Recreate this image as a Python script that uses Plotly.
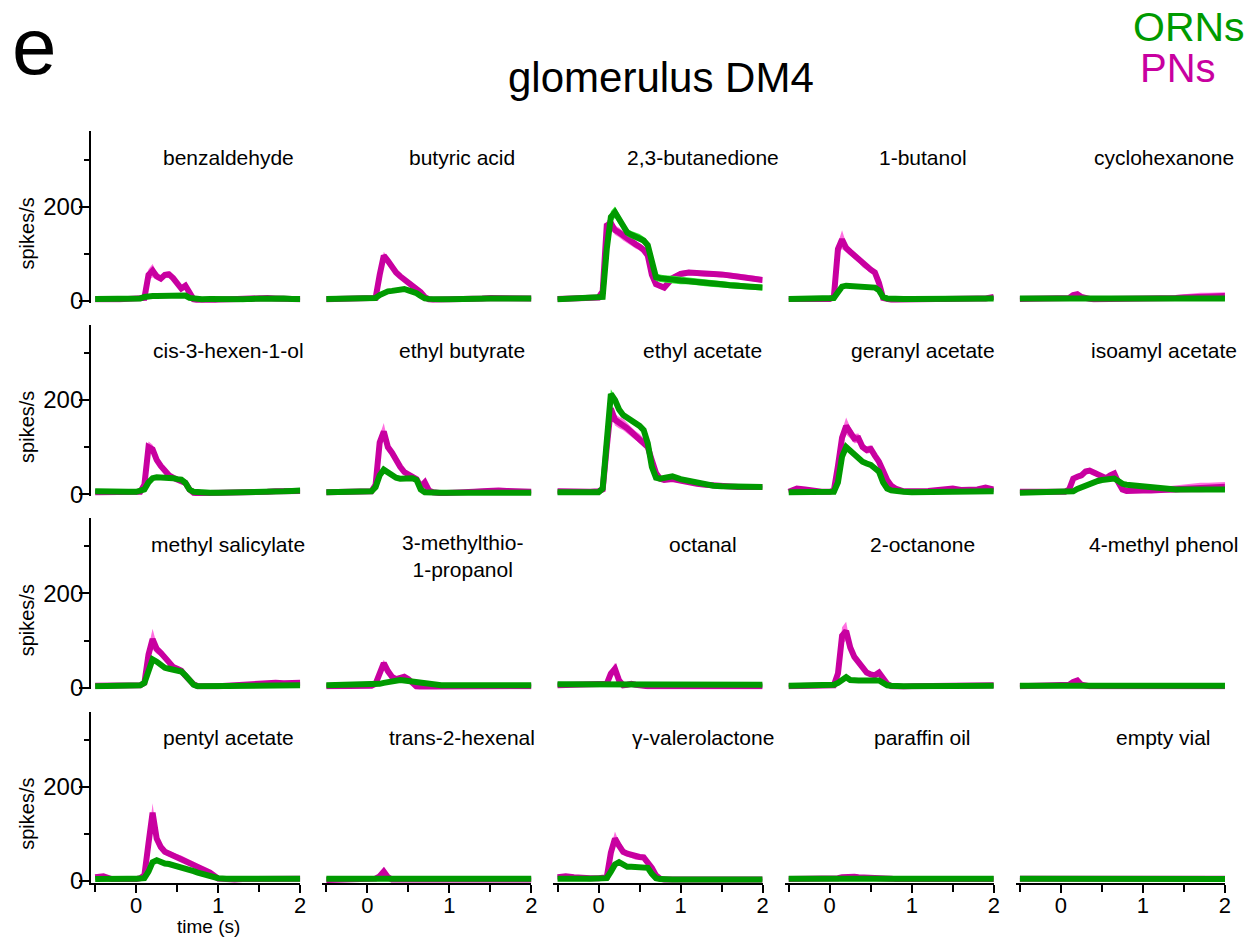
import plotly.graph_objects as go

# Odour panels, read left-to-right, top-to-bottom
ODORS = [
    "benzaldehyde", "butyric acid", "2,3-butanedione", "1-butanol", "cyclohexanone",
    "cis-3-hexen-1-ol", "ethyl butyrate", "ethyl acetate", "geranyl acetate", "isoamyl acetate",
    "methyl salicylate", "3-methylthio-<br>1-propanol", "octanal", "2-octanone", "4-methyl phenol",
    "pentyl acetate", "trans-2-hexenal", "\u03b3-valerolactone", "paraffin oil", "empty vial",
]

# Time bins (s), odour onset at 0
T = [-0.5, -0.4, -0.3, -0.2, -0.1, 0.0, 0.05, 0.1, 0.15, 0.2, 0.25, 0.3, 0.35, 0.4, 0.45,
     0.5, 0.55, 0.6, 0.65, 0.7, 0.75, 0.8, 0.9, 1.0, 1.1, 1.2, 1.3, 1.4, 1.5, 1.6, 1.7, 1.8, 1.9, 2.0]

# Projection neuron firing rate (spikes/s), mean across trials
PN_MEAN = [
    [3, 2, 3, 3, 4, 4, 4, 6, 55, 64, 52, 47, 55, 56, 48, 38, 26, 32, 18, 3, 1, 0, 1, 2, 3, 3, 4, 5, 8, 6, 5, 4, 4, 3],
    [3, 3, 3, 3, 3, 4, 4, 6, 55, 96, 85, 70, 60, 52, 45, 40, 34, 27, 18, 8, 3, 2, 2, 3, 4, 4, 5, 5, 6, 6, 6, 6, 6, 5],
    [4, 5, 5, 5, 5, 7, 20, 160, 165, 150, 145, 138, 131, 126, 120, 115, 108, 96, 55, 35, 30, 28, 48, 57, 60, 58, 57, 57, 56, 54, 52, 50, 47, 44],
    [4, 4, 4, 4, 4, 4, 8, 110, 130, 112, 104, 96, 88, 78, 72, 66, 60, 38, 6, 3, 2, 2, 3, 3, 4, 4, 4, 4, 5, 5, 5, 5, 5, 8],
    [4, 4, 3, 3, 3, 4, 4, 6, 12, 14, 8, 5, 4, 3, 3, 3, 3, 3, 3, 3, 3, 3, 4, 4, 4, 5, 5, 6, 7, 8, 9, 9, 10, 10],
    [4, 4, 4, 4, 4, 4, 5, 20, 100, 95, 73, 60, 50, 40, 35, 31, 29, 24, 10, 3, 2, 2, 2, 2, 3, 3, 3, 4, 5, 5, 6, 6, 6, 7],
    [4, 4, 4, 4, 4, 5, 6, 20, 110, 133, 100, 88, 72, 58, 47, 42, 36, 32, 16, 25, 8, 4, 2, 2, 3, 4, 5, 6, 8, 8, 7, 6, 6, 5],
    [6, 5, 5, 5, 5, 6, 10, 100, 182, 158, 152, 148, 140, 132, 124, 118, 110, 100, 72, 45, 33, 30, 32, 28, 25, 22, 20, 18, 17, 16, 15, 15, 15, 15],
    [5, 12, 10, 6, 5, 5, 8, 60, 120, 145, 130, 118, 119, 100, 94, 96, 82, 69, 50, 30, 18, 12, 6, 5, 6, 7, 8, 9, 12, 9, 8, 10, 14, 10],
    [5, 5, 5, 5, 5, 5, 5, 10, 33, 37, 40, 48, 50, 46, 42, 38, 34, 40, 44, 25, 10, 7, 6, 8, 8, 9, 10, 11, 12, 13, 14, 14, 15, 16],
    [4, 4, 4, 4, 4, 4, 5, 10, 70, 103, 82, 74, 65, 52, 44, 40, 36, 25, 16, 7, 3, 2, 3, 3, 4, 6, 8, 9, 10, 10, 10, 9, 10, 10],
    [3, 3, 3, 3, 3, 3, 4, 8, 35, 52, 35, 23, 18, 20, 23, 18, 8, 2, 1, 1, 1, 1, 2, 2, 2, 2, 2, 3, 3, 3, 3, 3, 3, 3],
    [5, 5, 5, 5, 5, 5, 5, 8, 30, 40, 15, 5, 6, 8, 6, 4, 3, 3, 3, 3, 3, 3, 3, 3, 3, 3, 3, 3, 3, 3, 3, 3, 3, 3],
    [3, 3, 3, 3, 3, 3, 5, 30, 110, 120, 85, 65, 55, 45, 32, 28, 26, 32, 20, 8, 3, 2, 2, 3, 3, 3, 4, 4, 4, 5, 5, 5, 5, 5],
    [3, 3, 3, 3, 3, 3, 4, 6, 12, 15, 6, 3, 3, 3, 3, 3, 3, 3, 3, 3, 3, 3, 3, 3, 3, 3, 3, 3, 3, 3, 3, 3, 3, 3],
    [8, 10, 4, 3, 3, 4, 6, 12, 80, 145, 90, 72, 62, 58, 54, 51, 48, 44, 40, 36, 31, 27, 18, 5, 3, 3, 4, 4, 4, 4, 4, 5, 5, 5],
    [2, 2, 2, 2, 2, 2, 3, 5, 10, 20, 8, 3, 3, 3, 3, 3, 3, 3, 3, 3, 3, 3, 3, 3, 3, 3, 3, 3, 3, 3, 3, 3, 3, 3],
    [8, 10, 8, 6, 6, 6, 6, 8, 60, 90, 75, 62, 58, 55, 51, 51, 50, 40, 28, 12, 5, 3, 3, 3, 3, 3, 3, 3, 3, 3, 3, 3, 3, 3],
    [4, 4, 4, 4, 4, 4, 5, 6, 8, 9, 9, 9, 8, 8, 8, 8, 8, 7, 6, 5, 5, 4, 4, 4, 4, 4, 4, 4, 4, 4, 4, 4, 4, 4],
    [5, 5, 5, 5, 5, 5, 5, 5, 5, 6, 6, 6, 6, 6, 5, 5, 5, 5, 5, 5, 5, 5, 5, 5, 5, 5, 5, 5, 5, 5, 5, 5, 5, 5],
]

# Projection neuron s.e.m. (spikes/s)
PN_SEM = [
    [2, 2, 2, 2, 2, 2, 2, 4, 12, 14, 8, 6, 6, 7, 6, 5, 5, 8, 5, 2, 2, 2, 2, 2, 2, 2, 2, 2, 3, 2, 2, 2, 2, 2],
    [2, 2, 2, 2, 2, 2, 2, 3, 6, 8, 6, 5, 4, 4, 3, 3, 3, 3, 3, 2, 2, 2, 2, 2, 2, 2, 2, 2, 2, 2, 2, 2, 2, 2],
    [2, 2, 2, 2, 2, 3, 5, 10, 12, 10, 10, 10, 9, 9, 9, 8, 8, 8, 6, 5, 5, 5, 6, 6, 6, 6, 6, 6, 6, 6, 6, 6, 6, 6],
    [2, 2, 2, 2, 2, 2, 3, 12, 20, 10, 8, 8, 7, 7, 6, 6, 6, 6, 3, 2, 2, 2, 2, 2, 2, 2, 2, 2, 2, 2, 2, 2, 2, 3],
    [2, 2, 2, 2, 2, 2, 2, 3, 5, 5, 3, 2, 2, 2, 2, 2, 2, 2, 2, 2, 2, 2, 3, 3, 4, 5, 5, 6, 7, 8, 8, 8, 8, 8],
    [2, 2, 2, 2, 2, 2, 2, 4, 12, 10, 7, 6, 5, 4, 4, 4, 4, 4, 3, 2, 2, 2, 2, 2, 2, 2, 2, 2, 2, 2, 2, 2, 2, 2],
    [2, 2, 2, 2, 2, 2, 2, 5, 15, 18, 10, 8, 8, 6, 5, 4, 4, 4, 4, 5, 3, 2, 2, 2, 2, 2, 2, 3, 3, 3, 3, 2, 2, 2],
    [2, 2, 2, 2, 2, 2, 3, 10, 12, 12, 12, 12, 10, 10, 10, 10, 9, 9, 8, 6, 5, 4, 4, 3, 3, 3, 3, 3, 3, 3, 3, 3, 3, 3],
    [2, 4, 4, 2, 2, 2, 3, 8, 15, 18, 12, 10, 10, 8, 8, 8, 8, 8, 6, 4, 3, 3, 2, 2, 2, 2, 3, 3, 3, 3, 3, 3, 4, 3],
    [2, 2, 2, 2, 2, 2, 2, 3, 5, 6, 6, 6, 6, 5, 5, 5, 5, 5, 5, 4, 3, 3, 3, 4, 5, 6, 7, 8, 9, 9, 10, 10, 10, 10],
    [2, 2, 2, 2, 2, 2, 2, 4, 15, 22, 10, 8, 6, 5, 5, 4, 4, 4, 3, 2, 2, 2, 2, 2, 2, 3, 3, 3, 3, 3, 3, 3, 3, 3],
    [2, 2, 2, 2, 2, 2, 2, 3, 6, 7, 5, 3, 3, 3, 3, 3, 2, 2, 2, 2, 2, 2, 2, 2, 2, 2, 2, 2, 2, 2, 2, 2, 2, 2],
    [2, 2, 2, 2, 2, 2, 2, 3, 8, 12, 5, 2, 2, 2, 2, 2, 2, 2, 2, 2, 2, 2, 2, 2, 2, 2, 2, 2, 2, 2, 2, 2, 2, 2],
    [2, 2, 2, 2, 2, 2, 2, 6, 18, 20, 8, 6, 5, 5, 4, 4, 4, 5, 4, 2, 2, 2, 2, 2, 2, 2, 2, 2, 2, 2, 2, 2, 2, 2],
    [2, 2, 2, 2, 2, 2, 2, 3, 5, 5, 3, 2, 2, 2, 2, 2, 2, 2, 2, 2, 2, 2, 2, 2, 2, 2, 2, 2, 2, 2, 2, 2, 2, 2],
    [3, 4, 2, 2, 2, 2, 2, 4, 15, 20, 8, 6, 6, 6, 6, 6, 6, 6, 6, 5, 5, 4, 3, 2, 2, 2, 2, 2, 2, 2, 2, 2, 2, 2],
    [2, 2, 2, 2, 2, 2, 2, 3, 5, 6, 3, 2, 2, 2, 2, 2, 2, 2, 2, 2, 2, 2, 2, 2, 2, 2, 2, 2, 2, 2, 2, 2, 2, 2],
    [3, 4, 3, 2, 2, 2, 2, 4, 12, 15, 8, 6, 6, 6, 6, 6, 6, 6, 5, 3, 2, 2, 2, 2, 2, 2, 2, 2, 2, 2, 2, 2, 2, 2],
    [2, 2, 2, 2, 2, 2, 2, 2, 2, 3, 3, 3, 2, 2, 2, 2, 2, 2, 2, 2, 2, 2, 2, 2, 2, 2, 2, 2, 2, 2, 2, 2, 2, 2],
    [2, 2, 2, 2, 2, 2, 2, 2, 2, 2, 2, 2, 2, 2, 2, 2, 2, 2, 2, 2, 2, 2, 2, 2, 2, 2, 2, 2, 2, 2, 2, 2, 2, 2],
]

# Olfactory receptor neuron firing rate (spikes/s), mean across trials
ORN_MEAN = [
    [4, 4, 4, 4, 4, 4, 5, 8, 10, 10, 10, 10, 10, 10, 10, 10, 10, 11, 6, 4, 3, 3, 4, 3, 3, 3, 3, 4, 5, 5, 5, 5, 4, 4],
    [4, 4, 4, 4, 4, 4, 5, 6, 12, 17, 20, 21, 22, 24, 25, 22, 20, 16, 10, 5, 4, 3, 3, 3, 4, 4, 4, 4, 5, 5, 5, 5, 5, 5],
    [3, 4, 4, 4, 4, 5, 8, 110, 178, 188, 175, 160, 145, 140, 137, 134, 128, 118, 80, 50, 48, 46, 45, 43, 42, 40, 38, 36, 35, 33, 32, 30, 29, 28],
    [4, 4, 4, 4, 4, 4, 6, 18, 30, 32, 31, 30, 30, 29, 29, 28, 28, 22, 8, 5, 4, 4, 4, 4, 4, 4, 4, 4, 5, 5, 5, 5, 5, 5],
    [5, 5, 5, 5, 5, 5, 5, 6, 8, 8, 7, 6, 6, 6, 6, 6, 6, 5, 5, 5, 5, 5, 5, 5, 5, 5, 5, 5, 5, 5, 5, 5, 5, 5],
    [6, 5, 5, 5, 5, 5, 6, 10, 25, 34, 36, 36, 36, 35, 34, 32, 31, 24, 10, 5, 4, 4, 3, 3, 3, 4, 4, 4, 5, 5, 6, 6, 7, 8],
    [4, 4, 4, 4, 4, 4, 6, 15, 40, 52, 46, 38, 35, 33, 33, 33, 34, 30, 10, 4, 3, 3, 3, 3, 3, 3, 3, 3, 3, 3, 3, 3, 3, 3],
    [4, 4, 3, 3, 3, 4, 12, 130, 213, 200, 180, 168, 162, 157, 152, 145, 136, 108, 58, 35, 33, 35, 38, 32, 28, 24, 20, 18, 17, 16, 15, 15, 15, 15],
    [4, 4, 4, 4, 4, 4, 5, 25, 80, 100, 92, 83, 76, 69, 65, 62, 55, 48, 25, 12, 8, 6, 5, 4, 4, 5, 5, 5, 6, 6, 6, 6, 6, 6],
    [3, 3, 3, 3, 3, 3, 3, 4, 6, 11, 15, 19, 22, 25, 28, 30, 31, 32, 33, 28, 22, 20, 18, 16, 14, 12, 11, 10, 10, 10, 10, 10, 10, 10],
    [3, 3, 3, 3, 4, 4, 5, 10, 40, 60, 55, 47, 42, 40, 38, 37, 34, 26, 15, 6, 3, 3, 3, 3, 4, 4, 4, 4, 5, 5, 5, 5, 5, 5],
    [5, 5, 5, 5, 5, 5, 5, 6, 8, 10, 12, 14, 15, 16, 15, 14, 12, 10, 8, 7, 6, 6, 5, 5, 5, 5, 5, 5, 5, 5, 5, 5, 5, 5],
    [7, 7, 7, 6, 6, 6, 6, 6, 7, 8, 9, 9, 8, 8, 7, 7, 7, 6, 6, 6, 6, 6, 6, 6, 7, 7, 7, 6, 6, 6, 6, 6, 6, 6],
    [4, 4, 4, 4, 4, 4, 6, 10, 18, 22, 16, 14, 15, 15, 15, 15, 15, 15, 10, 5, 4, 3, 3, 3, 3, 3, 4, 4, 4, 4, 4, 4, 4, 4],
    [4, 4, 4, 4, 4, 4, 4, 4, 5, 5, 5, 5, 5, 5, 5, 4, 4, 4, 4, 4, 4, 4, 4, 4, 4, 4, 4, 4, 4, 4, 4, 4, 4, 4],
    [4, 5, 5, 5, 5, 5, 5, 6, 20, 40, 44, 40, 37, 36, 34, 32, 30, 28, 24, 21, 18, 15, 10, 6, 5, 5, 5, 5, 5, 5, 5, 5, 5, 5],
    [5, 5, 5, 5, 5, 5, 5, 5, 6, 6, 6, 6, 5, 5, 5, 5, 5, 5, 5, 5, 5, 5, 5, 5, 5, 5, 5, 5, 5, 5, 5, 5, 5, 5],
    [5, 6, 5, 5, 5, 5, 5, 6, 20, 35, 40, 33, 30, 30, 29, 28, 29, 28, 15, 6, 4, 3, 3, 3, 3, 3, 3, 3, 3, 3, 3, 3, 3, 3],
    [5, 5, 5, 5, 5, 5, 5, 5, 5, 5, 6, 6, 6, 6, 6, 6, 5, 5, 5, 5, 5, 5, 5, 5, 5, 5, 5, 5, 5, 5, 5, 5, 5, 5],
    [5, 5, 4, 4, 4, 4, 4, 4, 4, 4, 4, 4, 4, 4, 4, 4, 4, 4, 4, 4, 4, 4, 4, 4, 4, 4, 4, 4, 4, 4, 4, 4, 4, 4],
]

# Olfactory receptor neuron s.e.m. (spikes/s)
ORN_SEM = [
    [2, 2, 2, 2, 2, 2, 2, 2, 2, 2, 2, 2, 2, 2, 2, 2, 2, 2, 2, 2, 2, 2, 2, 2, 2, 2, 2, 2, 2, 2, 2, 2, 2, 2],
    [2, 2, 2, 2, 2, 2, 2, 2, 2, 2, 2, 2, 2, 2, 2, 2, 2, 2, 2, 2, 2, 2, 2, 2, 2, 2, 2, 2, 2, 2, 2, 2, 2, 2],
    [2, 2, 2, 2, 2, 2, 4, 10, 12, 12, 10, 9, 8, 8, 8, 8, 8, 8, 8, 8, 8, 8, 8, 8, 7, 7, 7, 7, 7, 7, 7, 6, 6, 6],
    [2, 2, 2, 2, 2, 2, 2, 3, 3, 3, 3, 3, 3, 3, 3, 3, 3, 3, 2, 2, 2, 2, 2, 2, 2, 2, 2, 2, 2, 2, 2, 2, 2, 2],
    [2, 2, 2, 2, 2, 2, 2, 2, 2, 2, 2, 2, 2, 2, 2, 2, 2, 2, 2, 2, 2, 2, 2, 2, 2, 2, 2, 2, 2, 2, 2, 2, 2, 2],
    [2, 2, 2, 2, 2, 2, 2, 2, 3, 3, 3, 3, 3, 3, 3, 3, 3, 3, 2, 2, 2, 2, 2, 2, 2, 2, 2, 2, 2, 2, 2, 2, 2, 2],
    [2, 2, 2, 2, 2, 2, 2, 3, 3, 4, 3, 3, 3, 3, 3, 3, 3, 3, 2, 2, 2, 2, 2, 2, 2, 2, 2, 2, 2, 2, 2, 2, 2, 2],
    [2, 2, 2, 2, 2, 2, 3, 8, 10, 8, 6, 6, 5, 5, 5, 5, 5, 6, 6, 5, 4, 4, 4, 3, 3, 3, 3, 3, 3, 3, 3, 3, 3, 3],
    [2, 2, 2, 2, 2, 2, 2, 3, 5, 5, 4, 4, 3, 3, 3, 3, 3, 3, 3, 2, 2, 2, 2, 2, 2, 2, 2, 2, 2, 2, 2, 2, 2, 2],
    [2, 2, 2, 2, 2, 2, 2, 2, 2, 3, 3, 3, 3, 3, 3, 3, 3, 3, 3, 3, 3, 3, 3, 3, 3, 3, 3, 3, 3, 3, 3, 3, 3, 3],
    [2, 2, 2, 2, 2, 2, 2, 2, 4, 4, 3, 3, 3, 3, 3, 3, 3, 3, 2, 2, 2, 2, 2, 2, 2, 2, 2, 2, 2, 2, 2, 2, 2, 2],
    [2, 2, 2, 2, 2, 2, 2, 2, 2, 2, 2, 2, 2, 2, 2, 2, 2, 2, 2, 2, 2, 2, 2, 2, 2, 2, 2, 2, 2, 2, 2, 2, 2, 2],
    [2, 2, 2, 2, 2, 2, 2, 2, 2, 2, 2, 2, 2, 2, 2, 2, 2, 2, 2, 2, 2, 2, 2, 2, 2, 2, 2, 2, 2, 2, 2, 2, 2, 2],
    [2, 2, 2, 2, 2, 2, 2, 2, 3, 3, 2, 2, 2, 2, 2, 2, 2, 2, 2, 2, 2, 2, 2, 2, 2, 2, 2, 2, 2, 2, 2, 2, 2, 2],
    [2, 2, 2, 2, 2, 2, 2, 2, 2, 2, 2, 2, 2, 2, 2, 2, 2, 2, 2, 2, 2, 2, 2, 2, 2, 2, 2, 2, 2, 2, 2, 2, 2, 2],
    [2, 2, 2, 2, 2, 2, 2, 2, 3, 3, 3, 3, 3, 3, 3, 3, 3, 3, 3, 3, 2, 2, 2, 2, 2, 2, 2, 2, 2, 2, 2, 2, 2, 2],
    [2, 2, 2, 2, 2, 2, 2, 2, 2, 2, 2, 2, 2, 2, 2, 2, 2, 2, 2, 2, 2, 2, 2, 2, 2, 2, 2, 2, 2, 2, 2, 2, 2, 2],
    [2, 2, 2, 2, 2, 2, 2, 2, 3, 3, 3, 3, 3, 3, 3, 3, 3, 3, 2, 2, 2, 2, 2, 2, 2, 2, 2, 2, 2, 2, 2, 2, 2, 2],
    [2, 2, 2, 2, 2, 2, 2, 2, 2, 2, 2, 2, 2, 2, 2, 2, 2, 2, 2, 2, 2, 2, 2, 2, 2, 2, 2, 2, 2, 2, 2, 2, 2, 2],
    [2, 2, 2, 2, 2, 2, 2, 2, 2, 2, 2, 2, 2, 2, 2, 2, 2, 2, 2, 2, 2, 2, 2, 2, 2, 2, 2, 2, 2, 2, 2, 2, 2, 2],
]

X_RANGE = [-0.55, 2.0]
Y_RANGE = [-4, 360]

# page is laid out on a 1246 x 939 grid; the figure itself is a touch larger
GRID_W, GRID_H = 1246, 939
FIG_W, FIG_H = 1253, 952
FONT = "Liberation Sans, Arial, sans-serif"
PN_LINE, PN_BAND = "#c800a0", "#ff70e0"
ORN_LINE, ORN_BAND = "#009a00", "#38f038"

# panel geometry on the layout grid
COL_LEFT = [91, 322, 553, 784, 1015]
PANEL_W = 209
ROW_TOP = [131, 324, 517, 710]
PANEL_H = 171
TITLE_X = [228, 462, 702, 922, 1163]
TITLE_DY = 26


def px_x(p):
    return p / GRID_W


def px_y(p):
    return 1 - p / GRID_H


fig = go.Figure()
layout = {}
annotations = []


def band(t, mean, sem, color, xa, ya):
    upper = [m + s for m, s in zip(mean, sem)]
    lower = [m - s for m, s in zip(mean, sem)]
    return go.Scatter(x=t + t[::-1], y=upper + lower[::-1], fill="toself",
                      fillcolor=color, line=dict(width=0), mode="lines",
                      hoverinfo="skip", showlegend=False, xaxis=xa, yaxis=ya)


for i, name in enumerate(ODORS):
    r, c = divmod(i, 5)
    k = i + 1
    sfx = "" if k == 1 else str(k)
    xa, ya = "x" + sfx, "y" + sfx

    fig.add_trace(band(T, PN_MEAN[i], PN_SEM[i], PN_BAND, xa, ya))
    fig.add_trace(go.Scatter(x=T, y=PN_MEAN[i], mode="lines", line=dict(color=PN_LINE, width=6),
                             showlegend=False, xaxis=xa, yaxis=ya, name="PNs"))
    fig.add_trace(band(T, ORN_MEAN[i], ORN_SEM[i], ORN_BAND, xa, ya))
    fig.add_trace(go.Scatter(x=T, y=ORN_MEAN[i], mode="lines", line=dict(color=ORN_LINE, width=6),
                             showlegend=False, xaxis=xa, yaxis=ya, name="ORNs"))

    x0 = COL_LEFT[c]
    y0 = ROW_TOP[r]
    xaxis = dict(domain=[px_x(x0), px_x(x0 + PANEL_W)], anchor=ya, range=X_RANGE,
                 showgrid=False, zeroline=False, fixedrange=True)
    if r == 3:
        xaxis.update(showline=True, linecolor="black", linewidth=2, ticks="outside",
                     tick0=0, dtick=1, ticklen=8, tickwidth=2, tickcolor="black",
                     showticklabels=True, ticklabelstandoff=-6,
                     tickfont=dict(family=FONT, size=22, color="black"),
                     minor=dict(ticks="outside", tick0=0, dtick=0.5, ticklen=7, tickwidth=2,
                                tickcolor="black"))
    else:
        xaxis.update(visible=False)
    yaxis = dict(domain=[px_y(y0 + PANEL_H), px_y(y0)], anchor=xa, range=Y_RANGE,
                 showgrid=False, zeroline=False, fixedrange=True)
    if c == 0:
        yaxis.update(showline=True, linecolor="black", linewidth=2, ticks="outside",
                     tick0=0, dtick=200, ticklen=10, tickwidth=2, tickcolor="black",
                     showticklabels=True, ticklabelstandoff=-9,
                     tickfont=dict(family=FONT, size=24, color="black"),
                     minor=dict(ticks="outside", tick0=0, dtick=100, ticklen=5, tickwidth=2,
                                tickcolor="black"))
        annotations.append(dict(text="spikes/s", x=px_x(27), y=px_y(y0 + 102), xref="paper",
                                yref="paper", showarrow=False, textangle=-90,
                                font=dict(family=FONT, size=20, color="black"),
                                xanchor="center", yanchor="middle"))
    else:
        yaxis.update(visible=False)
    layout["xaxis" + sfx] = xaxis
    layout["yaxis" + sfx] = yaxis

    annotations.append(dict(text=name, x=px_x(TITLE_X[c]), y=px_y(y0 + TITLE_DY),
                            xref="paper", yref="paper", showarrow=False,
                            xanchor="center", yanchor="middle",
                            font=dict(family=FONT, size=21, color="black")))

# the two-line title keeps its first line on the row's title line
for a in annotations:
    if "<br>" in a["text"]:
        a["y"] = px_y(ROW_TOP[2] + TITLE_DY + 12)

annotations += [
    dict(text="time (s)", x=px_x(208), y=px_y(925), xref="paper", yref="paper",
         showarrow=False, font=dict(family=FONT, size=19, color="black"),
         xanchor="center", yanchor="middle", borderpad=0),
    dict(text="glomerulus DM4", x=px_x(660), y=px_y(77), xref="paper", yref="paper",
         showarrow=False, font=dict(family=FONT, size=42, color="black"),
         xanchor="center", yanchor="middle"),
    dict(text="e", x=px_x(34), y=1, xref="paper", yref="paper",
         showarrow=False, font=dict(family=FONT, size=80, color="black"),
         xanchor="center", yanchor="top"),
    dict(text="ORNs", x=px_x(1246), y=px_y(27), xref="paper", yref="paper",
         showarrow=False, font=dict(family=FONT, size=41, color=ORN_LINE),
         xanchor="right", yanchor="middle"),
    dict(text="PNs", x=px_x(1217), y=px_y(68), xref="paper", yref="paper",
         showarrow=False, font=dict(family=FONT, size=40, color=PN_LINE),
         xanchor="right", yanchor="middle"),
]

fig.update_layout(width=FIG_W, height=FIG_H, margin=dict(l=0, r=0, t=0, b=0),
                  paper_bgcolor="white", plot_bgcolor="white",
                  annotations=annotations, showlegend=False, **layout)

fig.write_html("out.html")
